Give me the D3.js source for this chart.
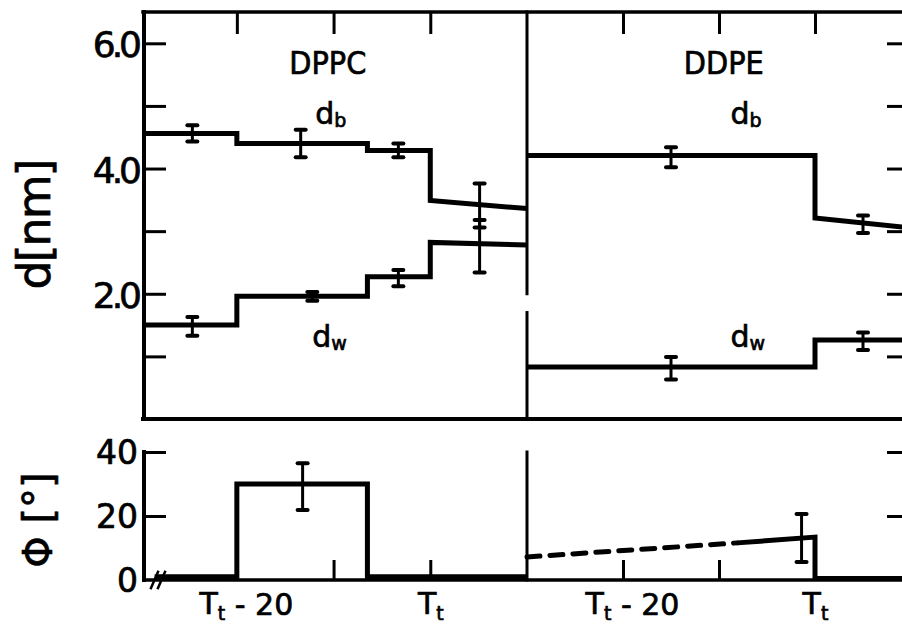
<!DOCTYPE html>
<html>
<head>
<meta charset="utf-8">
<script src="https://cdn.jsdelivr.net/npm/d3@7/dist/d3.min.js"></script>
<style>
  html, body { margin: 0; padding: 0; background: #fff; }
  svg { display: block; }
  text { font-family: "DejaVu Sans", "Liberation Sans", sans-serif; fill: #000; stroke: #000; stroke-width: 0.7px; }
</style>
</head>
<body>
<svg id="chart" width="902" height="625"></svg>
<script>
// Temperatures are given relative to the main transition temperature Tt.
const panelNames = ["DPPC", "DDPE"];
const tempTicks = [-20, -10, 0];
const tempLabels = [[-20, " - 20"], [0, ""]];      // shown as "Tt" + suffix
const dTicks = [1, 2, 3, 4, 5, 6];
const dLabelled = [2, 4, 6];
const phiTicks = [0, 20, 40];

// Step profiles, [T - Tt, value]  (d in nm, phi in degrees)
const dppcDb = [[-29.6, 4.56], [-20, 4.56], [-20, 4.40], [-6.5, 4.40], [-6.5, 4.29], [0, 4.29], [0, 3.49], [10, 3.36]];
const dppcDw = [[-29.6, 1.50], [-20, 1.50], [-20, 1.96], [-6.5, 1.96], [-6.5, 2.27], [0, 2.27], [0, 2.82], [10, 2.78]];
const ddpeDb = [[-30, 4.21], [0, 4.21], [0, 3.21], [10, 3.05]];
const ddpeDw = [[-30, 0.83], [0, 0.83], [0, 1.26], [10, 1.26]];
const dppcPhi = [[-28.5, 1], [-20, 1], [-20, 30], [-6.5, 30], [-6.5, 1], [10, 1]];
const ddpePhiExtrapolated = [[-30, 7.2], [-8.1, 11.6]];
const ddpePhi = [[-8.1, 11.6], [0, 13.4], [0, 0.5], [10, 0.5]];

// Error bars, [T - Tt, mean, half-width]
const dppcDbErr = [[-24.6, 4.56, 0.13], [-13.4, 4.40, 0.22], [-3.3, 4.29, 0.11], [5.1, 3.41, 0.35]];
const dppcDwErr = [[-24.6, 1.48, 0.15], [-12.2, 1.96, 0.07], [-3.3, 2.25, 0.13], [5.1, 2.76, 0.42]];
const ddpeDbErr = [[-15, 4.18, 0.16], [5, 3.11, 0.14]];
const ddpeDwErr = [[-15, 0.81, 0.18], [5, 1.24, 0.14]];
const dppcPhiErr = [[-13.2, 29.2, 7.3]];
const ddpePhiErr = [[-1.4, 13.1, 7.5]];

const svg = d3.select("#chart");

// scales: two temperature panels side by side, d panel on top, tilt panel below
const xL = d3.scaleLinear().domain([-29.6, 10]).range([144, 527]);
const xR = d3.scaleLinear().domain([-30, 10]).range([527, 911]);
const yD = d3.scaleLinear().domain([0, 6.5]).range([419, 12]);
const yP = d3.scaleLinear().domain([0, 40]).range([580, 452]);

const x0 = xL.range()[0], xMid = xL.range()[1], x1 = xR.range()[1];

function seg(x1_, y1_, x2_, y2_, w) {
  svg.append("line")
    .attr("x1", x1_).attr("y1", y1_).attr("x2", x2_).attr("y2", y2_)
    .attr("stroke", "#000").attr("stroke-width", w).attr("stroke-linecap", "square");
}

// frame of the d panel
seg(x0 - 1, yD(6.5), x1, yD(6.5), 3.5);
seg(x0 - 1, yD(0), x1, yD(0), 4);
seg(x0, yD(6.5), x0, yD(0), 4);
seg(xMid, yD(6.5), xMid, yD(2.0), 3);
seg(xMid, yD(1.7), xMid, yD(0), 3);

// frame of the phi panel
seg(x0, yP(40), x0, yP(0), 4);
seg(x0, yP(0), x1, yP(0), 3.5);
seg(xMid, yP(40), xMid, yP(0), 3);

function styleAxis(g) {
  g.select(".domain").remove();
  g.selectAll(".tick line").attr("stroke", "#000").attr("stroke-width", 3);
}

// y axis of d panel
svg.append("g").attr("transform", `translate(${x0},0)`)
  .call(d3.axisLeft(yD).tickValues(dTicks).tickSize(-22).tickPadding(6)
    .tickFormat(d => dLabelled.includes(d) ? d3.format(".1f")(d) : ""))
  .call(styleAxis)
  .call(g => g.selectAll("text").attr("font-size", 36).attr("letter-spacing", -4).attr("dy", "0.38em"));
svg.append("g").attr("transform", `translate(${x1},0)`)
  .call(d3.axisRight(yD).tickValues(dTicks).tickSize(-24).tickFormat(""))
  .call(styleAxis);

// y axis of phi panel
svg.append("g").attr("transform", `translate(${x0},0)`)
  .call(d3.axisLeft(yP).tickValues(phiTicks).tickSize(-22).tickPadding(6).tickFormat(d3.format("d")))
  .call(styleAxis)
  .call(g => g.selectAll(".tick line").filter(d => d === 0).remove())
  .call(g => g.selectAll("text").attr("font-size", 33).attr("dy", "0.36em"));
svg.append("g").attr("transform", `translate(${x1},0)`)
  .call(d3.axisRight(yP).tickValues(phiTicks.filter(d => d > 0)).tickSize(-24).tickFormat(""))
  .call(styleAxis);

// temperature ticks, top of d panel and bottom of phi panel
[xL, xR].forEach(x => {
  svg.append("g").attr("transform", `translate(0,${yD(6.5)})`)
    .call(d3.axisTop(x).tickValues(tempTicks).tickSize(-22).tickFormat(""))
    .call(styleAxis);
  const gb = svg.append("g").attr("transform", `translate(0,${yP(0)})`)
    .call(d3.axisBottom(x).tickValues(tempTicks).tickSize(-20).tickPadding(13).tickFormat(""))
    .call(styleAxis);
  gb.selectAll(".tick").each(function (d) {
    const lab = tempLabels.find(l => l[0] === d);
    if (!lab) return;
    const t = d3.select(this).select("text")
      .attr("font-size", 30).attr("dy", "0.71em")
      .attr("dx", lab[1] ? "0.3em" : "0").attr("text-anchor", "middle");
    t.append("tspan").text("T");
    t.append("tspan").attr("font-size", 19).attr("dy", "0.3em").text("t");
    if (lab[1]) t.append("tspan").attr("dy", "-0.18em").text(lab[1]);
  });
});

// break marks on the phi axis
[0, 7].forEach(o => seg(x0 + 7 + o, yP(0) + 8, x0 + 14 + o, yP(0) - 8, 2.5));

// profiles
const lineD = x => d3.line().x(d => x(d[0])).y(d => yD(d[1]));
const lineP = x => d3.line().x(d => x(d[0])).y(d => yP(d[1]));

function profile(data, gen, dash) {
  svg.append("path").datum(data).attr("d", gen)
    .attr("fill", "none").attr("stroke", "#000").attr("stroke-width", 5)
    .attr("stroke-linejoin", "miter")
    .attr("stroke-dasharray", dash || null)
    .attr("stroke-linecap", dash ? "round" : "butt");
}
profile(dppcDb, lineD(xL));
profile(dppcDw, lineD(xL));
profile(ddpeDb, lineD(xR));
profile(ddpeDw, lineD(xR));
profile(dppcPhi, lineP(xL));
profile(ddpePhiExtrapolated, lineP(xR), "13 10");
profile(ddpePhi, lineP(xR));

function errorBars(data, x, y) {
  const g = svg.append("g");
  data.forEach(([t, m, e]) => {
    const cx = x(t), ya = y(m + e), yb = y(m - e);
    g.append("line").attr("x1", cx).attr("x2", cx).attr("y1", ya).attr("y2", yb)
      .attr("stroke", "#000").attr("stroke-width", 3);
    [ya, yb].forEach(yy => g.append("line")
      .attr("x1", cx - 5).attr("x2", cx + 5).attr("y1", yy).attr("y2", yy)
      .attr("stroke", "#000").attr("stroke-width", 4).attr("stroke-linecap", "round"));
  });
}
errorBars(dppcDbErr, xL, yD);
errorBars(dppcDwErr, xL, yD);
errorBars(ddpeDbErr, xR, yD);
errorBars(ddpeDwErr, xR, yD);
errorBars(dppcPhiErr, xL, yP);
errorBars(ddpePhiErr, xR, yP);

// panel titles and curve labels
[[xL(-10.6), panelNames[0]], [xR(-9.5), panelNames[1]]].forEach(([cx, name]) => {
  svg.append("text").attr("x", cx).attr("y", 74).attr("text-anchor", "middle")
    .attr("font-size", 32).attr("font-family", "DejaVu Sans Condensed, DejaVu Sans")
    .attr("font-stretch", "condensed").text(name);
});
function subLabel(x, y, main, sub) {
  const t = svg.append("text").attr("x", x).attr("y", y).attr("font-size", 30);
  t.append("tspan").text(main);
  t.append("tspan").attr("font-size", 19).attr("dy", "0.15em").text(sub);
}
subLabel(xL(-11.9), 124, "d", "b");
subLabel(xR(-8.8), 124, "d", "b");
subLabel(xL(-12.2), 347, "d", "w");
subLabel(xR(-8.8), 347, "d", "w");

// axis titles
svg.append("text").attr("transform", "translate(50,225) rotate(-90)")
  .attr("text-anchor", "middle").attr("font-size", 46).attr("letter-spacing", -2)
  .text("d[nm]");
svg.append("text").attr("transform", "translate(52,520) rotate(-90)")
  .attr("text-anchor", "middle").attr("font-size", 40)
  .text("Φ [°]");
</script>
</body>
</html>
